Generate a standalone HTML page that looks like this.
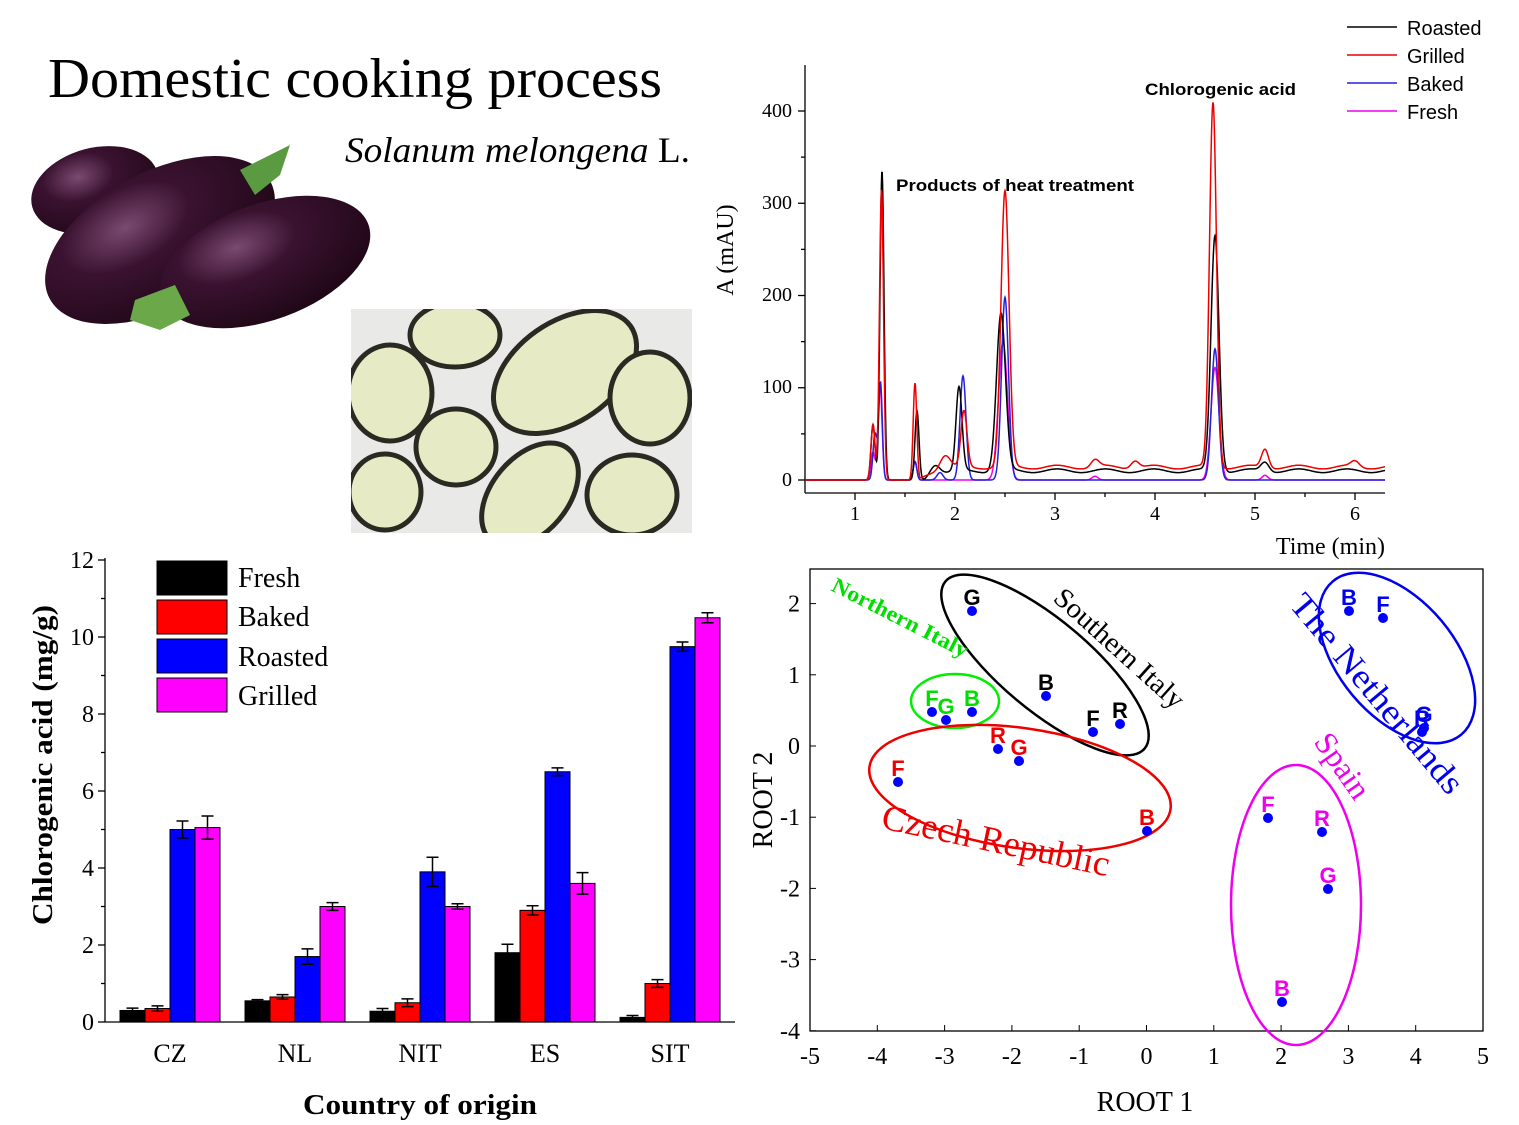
<!DOCTYPE html>
<html><head><meta charset="utf-8"><style>
html,body{margin:0;padding:0;background:#fff;}
svg{display:block;}
.s{font-family:"Liberation Serif",serif;}
.a{font-family:"Liberation Sans",sans-serif;}
</style></head><body>
<svg id="svg" width="1519" height="1125" viewBox="0 0 1519 1125" xmlns="http://www.w3.org/2000/svg">
<defs>
<radialGradient id="eg" cx="0.4" cy="0.3" r="0.8"><stop offset="0" stop-color="#7a4a70"/><stop offset="0.35" stop-color="#3a1230"/><stop offset="1" stop-color="#1a0512"/></radialGradient>
<clipPath id="ph"><rect x="351" y="309" width="341" height="224"/></clipPath>
</defs>
<text x="48" y="97" class="s" font-size="56" textLength="614" lengthAdjust="spacingAndGlyphs">Domestic cooking process</text>
<text x="345" y="162" class="s" font-size="36" textLength="345" lengthAdjust="spacingAndGlyphs"><tspan font-style="italic">Solanum melongena</tspan> L.</text>
<!-- eggplants -->
<ellipse cx="95" cy="190" rx="65" ry="42" transform="rotate(-15 95 190)" fill="url(#eg)"/>
<ellipse cx="160" cy="240" rx="125" ry="68" transform="rotate(-28 160 240)" fill="url(#eg)"/>
<ellipse cx="265" cy="262" rx="110" ry="58" transform="rotate(-20 265 262)" fill="url(#eg)"/>
<path d="M240 170 L290 145 L280 175 L255 195 Z" fill="#5a9a40"/>
<path d="M135 300 L175 285 L190 315 L160 330 L130 320 Z" fill="#6aa84a"/>
<!-- slices photo -->
<rect x="351" y="309" width="341" height="224" fill="#e9e9e7"/>
<g fill="#e6ebc6" stroke="#2a2a22" stroke-width="5" clip-path="url(#ph)">
<ellipse cx="390" cy="393" rx="42" ry="48"/>
<ellipse cx="455" cy="335" rx="45" ry="32"/>
<ellipse cx="456" cy="447" rx="40" ry="38"/>
<ellipse cx="385" cy="492" rx="36" ry="38"/>
<ellipse cx="565" cy="372" rx="80" ry="50" transform="rotate(-35 565 372)"/>
<ellipse cx="650" cy="398" rx="40" ry="46"/>
<ellipse cx="632" cy="495" rx="45" ry="40"/>
<ellipse cx="530" cy="495" rx="60" ry="38" transform="rotate(-50 530 495)"/>
</g>
<!-- chromatogram -->
<g id="chrom" stroke="#000" stroke-width="1.3" fill="none">
<line x1="805" y1="65" x2="805" y2="493"/>
<line x1="805" y1="493" x2="1385" y2="493"/>
</g>
<g class="s" font-size="20" text-anchor="end">
<text x="792" y="117">400</text><text x="792" y="209">300</text><text x="792" y="301">200</text><text x="792" y="393">100</text><text x="792" y="486">0</text>
</g>
<g class="s" font-size="20" text-anchor="middle">
<text x="855" y="520">1</text><text x="955" y="520">2</text><text x="1055" y="520">3</text><text x="1155" y="520">4</text><text x="1255" y="520">5</text><text x="1355" y="520">6</text>
</g>
<text x="1385" y="554" class="s" font-size="24" text-anchor="end">Time (min)</text>
<text transform="translate(733 250) rotate(-90)" class="s" font-size="24" text-anchor="middle">A (mAU)</text>
<text x="1145" y="95" class="a" font-size="17" font-weight="bold" textLength="151" lengthAdjust="spacingAndGlyphs">Chlorogenic acid</text>
<text x="896" y="191" class="a" font-size="17" font-weight="bold" textLength="238" lengthAdjust="spacingAndGlyphs">Products of heat treatment</text>
<g stroke-width="1.5">
<line x1="1347" y1="27" x2="1397" y2="27" stroke="#000"/>
<line x1="1347" y1="55" x2="1397" y2="55" stroke="#e00"/>
<line x1="1347" y1="83" x2="1397" y2="83" stroke="#22d"/>
<line x1="1347" y1="111" x2="1397" y2="111" stroke="#e0e"/>
</g>
<g class="a" font-size="20">
<text x="1407" y="35">Roasted</text><text x="1407" y="63">Grilled</text><text x="1407" y="91">Baked</text><text x="1407" y="119">Fresh</text>
</g>
<g id="series"></g>
<!-- bar chart -->
<g id="bars"></g>
<g stroke="#000" stroke-width="1.3" fill="none">
<line x1="105" y1="558" x2="105" y2="1022"/>
<line x1="105" y1="1022" x2="735" y2="1022"/>
</g>
<g class="s" font-size="24" text-anchor="end">
<text x="94" y="1030">0</text><text x="94" y="953">2</text><text x="94" y="876">4</text><text x="94" y="799">6</text><text x="94" y="722">8</text><text x="94" y="645">10</text><text x="94" y="568">12</text>
</g>
<g class="s" font-size="26" text-anchor="middle">
<text x="170" y="1062">CZ</text><text x="295" y="1062">NL</text><text x="420" y="1062">NIT</text><text x="545" y="1062">ES</text><text x="670" y="1062">SIT</text>
</g>
<text x="420" y="1114" class="s" font-size="28" font-weight="bold" text-anchor="middle" textLength="234" lengthAdjust="spacingAndGlyphs">Country of origin</text>
<text transform="translate(52 765) rotate(-90)" class="s" font-size="28" font-weight="bold" text-anchor="middle" textLength="320" lengthAdjust="spacingAndGlyphs">Chlorogenic acid (mg/g)</text>
<g stroke="#000">
<rect x="157" y="561" width="70" height="34" fill="#000"/>
<rect x="157" y="600" width="70" height="34" fill="#f00"/>
<rect x="157" y="639" width="70" height="34" fill="#00f"/>
<rect x="157" y="678" width="70" height="34" fill="#f0f"/>
</g>
<g class="s" font-size="28">
<text x="238" y="587">Fresh</text><text x="238" y="626">Baked</text><text x="238" y="666">Roasted</text><text x="238" y="705">Grilled</text>
</g>
<!-- PCA -->
<rect x="810" y="569" width="673" height="462" fill="none" stroke="#000" stroke-width="1.3"/>
<g id="pcaticks"></g>
<text x="1145" y="1111" class="s" font-size="28" text-anchor="middle">ROOT 1</text>
<text transform="translate(772 800) rotate(-90)" class="s" font-size="28" text-anchor="middle">ROOT 2</text>
<g fill="none" stroke-width="2.5">
<ellipse cx="1045" cy="665" rx="130" ry="45" transform="rotate(40 1045 665)" stroke="#000"/>
<ellipse cx="955" cy="701" rx="44" ry="27" stroke="#0e0"/>
<ellipse cx="1020" cy="788" rx="152" ry="60" transform="rotate(8 1020 788)" stroke="#e00"/>
<ellipse cx="1397" cy="658" rx="100" ry="58" transform="rotate(50 1397 658)" stroke="#00e"/>
<ellipse cx="1296" cy="905" rx="65" ry="140" stroke="#e0e"/>
</g>
<g class="s" font-size="28">
<text transform="translate(1052 600) rotate(42)" textLength="165" lengthAdjust="spacingAndGlyphs">Southern Italy</text>
<text transform="translate(830 590) rotate(27)" fill="#0d0" font-size="22" font-weight="bold" textLength="150" lengthAdjust="spacingAndGlyphs">Northern Italy</text>
<text transform="translate(1288 605) rotate(50)" fill="#00e" font-size="34" textLength="250" lengthAdjust="spacingAndGlyphs">The Netherlands</text>
<text transform="translate(1313 742) rotate(55)" fill="#e0e" font-size="32">Spain</text>
<text transform="translate(880 828) rotate(12)" fill="#e00" font-size="36" textLength="232" lengthAdjust="spacingAndGlyphs">Czech Republic</text>
</g>
<g id="pts"></g>
</svg>
<script>
const NS="http://www.w3.org/2000/svg";
function el(p,t,a,txt){const e=document.createElementNS(NS,t);for(const k in a)e.setAttribute(k,a[k]);if(txt!==undefined)e.textContent=txt;p.appendChild(e);return e;}
const ch=document.getElementById('chrom');
for(let v=0;v<=400;v+=50){const y=480-v*0.9225;el(ch,'line',{x1:805,y1:y,x2:v%100?801:798,y2:y});}
for(let t=1;t<=6.3;t+=0.5){const x=855+(t-1)*100;el(ch,'line',{x1:x,y1:493,x2:x,y2:(t%1)?497:500});}
const series=[
 ['#e0e',[[1.18,30,.02],[1.25,105,.02],[1.6,20,.018],[2.48,150,.045],[4.6,122,.04],[3.4,4,.03],[5.1,5,.03]],0,0],
 ['#22d',[[1.2,50,.02],[1.255,105,.018],[1.6,20,.018],[1.85,8,.03],[2.08,113,.03],[2.5,198,.035],[4.6,142,.035]],0,0],
 ['#000',[[1.18,60,.02],[1.27,335,.02],[1.62,75,.02],[2.04,90,.03],[2.46,170,.045],[4.6,255,.04],[1.8,12,.05],[5.1,10,.04]],10,1.7],
 ['#e00',[[1.18,60,.02],[1.265,315,.02],[1.6,105,.018],[1.9,15,.05],[2.09,60,.03],[2.5,298,.04],[4.58,395,.035],[5.1,20,.035],[3.4,8,.04],[3.8,8,.04],[6,6,.04]],14,1.65]
];
const sg=document.getElementById('series');
for(const [c,pk,base,bs] of series){let d='';for(let t=0.5;t<=6.3;t+=0.004){let v=0;for(const [m,h,s] of pk)v+=h*Math.exp(-((t-m)**2)/(2*s*s));if(bs&&t>bs)v+=base*(1-Math.exp(-(t-bs)*8))+2*Math.sin(t*13);const x=805+(t-0.5)*100,y=480-v*0.9225;d+=(d?'L':'M')+x.toFixed(1)+' '+y.toFixed(1);}el(sg,'path',{d:d,fill:'none',stroke:c,'stroke-width':1.5});}
const bg=document.getElementById('bars');
const data=[[0.3,0.35,5.0,5.05],[0.55,0.65,1.7,3.0],[0.28,0.5,3.9,3.0],[1.8,2.9,6.5,3.6],[0.12,1.0,9.75,10.5]];
const err=[[0.06,0.07,0.22,0.3],[0.03,0.06,0.2,0.1],[0.07,0.1,0.38,0.07],[0.22,0.12,0.1,0.28],[0.05,0.1,0.12,0.13]];
const cols=['#000','#f00','#00f','#f0f'];
const Y=v=>1022-v*38.5;
data.forEach((g,i)=>{const cx=170+i*125;g.forEach((v,j)=>{const x=cx-50+j*25;el(bg,'rect',{x:x,y:Y(v),width:25,height:v*38.5,fill:cols[j],stroke:'#000','stroke-width':1});const e=err[i][j],m=x+12.5;el(bg,'path',{d:`M${m} ${Y(v+e)}V${Y(v-e)}M${m-6} ${Y(v+e)}H${m+6}M${m-6} ${Y(v-e)}H${m+6}`,stroke:'#000','stroke-width':1.5,fill:'none'});});});
for(let v=0;v<=12;v+=1){el(bg,'line',{x1:105,y1:Y(v),x2:v%2?101:98,y2:Y(v),stroke:'#000','stroke-width':1.3});}
const pt=document.getElementById('pcaticks');
for(let v=-5;v<=5;v++){const x=810+(v+5)*67.3;el(pt,'line',{x1:x,y1:1031,x2:x,y2:1025,stroke:'#000'});el(pt,'text',{x:x,y:1064,'font-size':24,'text-anchor':'middle','font-family':'Liberation Serif, serif'},String(v));}
for(let v=-4;v<=2;v++){const y=746-v*71.2;el(pt,'line',{x1:810,y1:y,x2:816,y2:y,stroke:'#000'});el(pt,'text',{x:800,y:y+8,'font-size':24,'text-anchor':'end','font-family':'Liberation Serif, serif'},String(v));}
const P=[['G',972,611,'#000'],['B',1046,696,'#000'],['F',1093,732,'#000'],['R',1120,724,'#000'],
['F',932,712,'#0d0'],['G',946,720,'#0d0'],['B',972,712,'#0d0'],
['R',998,749,'#e00'],['G',1019,761,'#e00'],['F',898,782,'#e00'],['B',1147,831,'#e00'],
['B',1349,611,'#00e'],['F',1383,618,'#00e'],['G',1424,728,'#00e'],['R',1422,732,'#00e'],
['F',1268,818,'#e0e'],['R',1322,832,'#e0e'],['G',1328,889,'#e0e'],['B',1282,1002,'#e0e']];
const pg=document.getElementById('pts');
for(const [l,x,y,c] of P){el(pg,'text',{x:x,y:y-6,'font-size':22,'font-weight':'bold','text-anchor':'middle',fill:c,'font-family':'Liberation Sans, sans-serif'},l);}
for(const [l,x,y,c] of P){el(pg,'circle',{cx:x,cy:y,r:5,fill:'#00f'});}
</script>
</body></html>
